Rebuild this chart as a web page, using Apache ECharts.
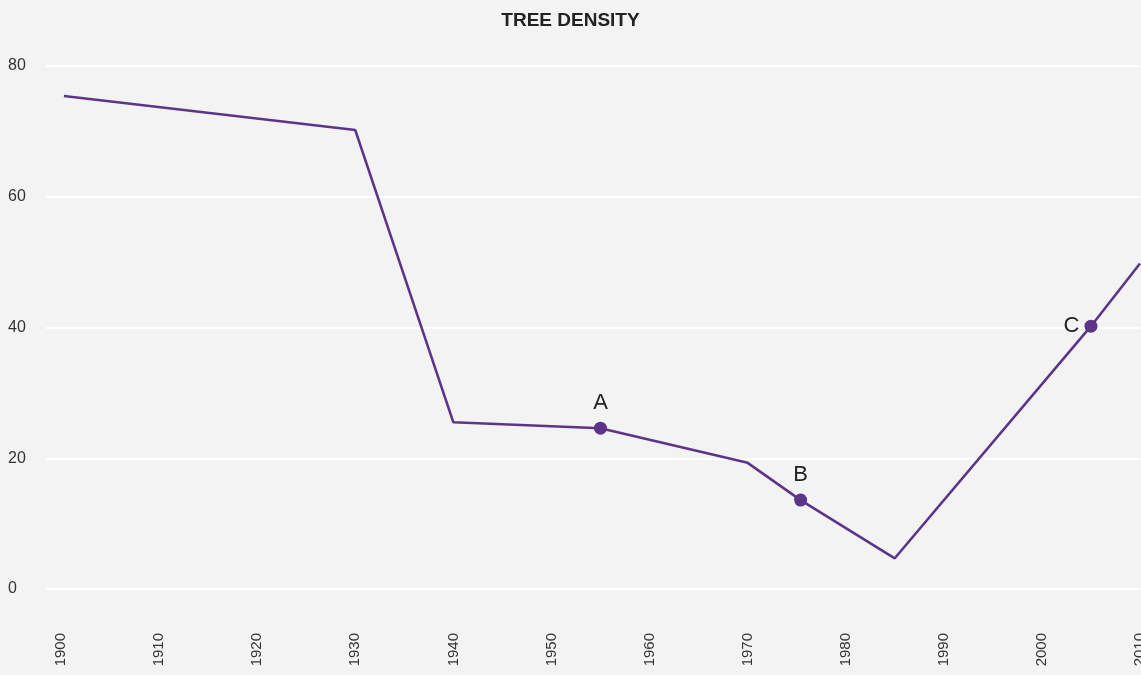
<!DOCTYPE html>
<html>
<head>
<meta charset="utf-8">
<script src="https://cdn.jsdelivr.net/npm/echarts@6/dist/echarts.min.js"></script>
<style>
html,body{margin:0;padding:0;background:#f3f3f3;}
#chart{width:1141px;height:675px;}
</style>
</head>
<body>
<div id="chart"></div>
<script>
const years = [1900.3, 1930, 1940, 1955, 1970, 1975.4, 1985, 2005, 2010];
const density = [75.4, 70.2, 25.5, 24.6, 19.3, 13.6, 4.7, 40.2, 49.8];
const markerYears = [1955, 1975.4, 2005];
const markerValues = [24.6, 13.6, 40.2];
const markerLabels = ['A', 'B', 'C'];
const xTicks = [1900, 1910, 1920, 1930, 1940, 1950, 1960, 1970, 1980, 1990, 2000, 2010];
const yTicks = [0, 20, 40, 60, 80];

const purple = '#5c3589';
const font = 'Liberation Sans, Arial, sans-serif';
const chart = echarts.init(document.getElementById('chart'));
chart.setOption({
  backgroundColor: '#f3f3f3',
  animation: false,
  title: {
    text: 'TREE DENSITY',
    left: 'center',
    top: 6,
    textStyle: {fontFamily: font, fontSize: 19, fontWeight: 'bold', color: '#222'}
  },
  grid: {left: 46, right: 1, top: 66, bottom: 86, outerBoundsMode: 'none', containLabel: false},
  xAxis: {
    type: 'value',
    min: 1898.47,
    max: 2010,
    splitLine: {show: false},
    axisLine: {show: false},
    axisTick: {show: false},
    axisLabel: {
      customValues: xTicks,
      formatter: v => String(v),
      rotate: 90,
      margin: 44,
      fontSize: 15,
      color: '#333',
      fontFamily: font
    }
  },
  yAxis: {
    type: 'value',
    min: 0,
    max: 80,
    interval: 20,
    axisLine: {show: false},
    axisTick: {show: false},
    splitLine: {lineStyle: {color: '#ffffff', width: 2}},
    axisLabel: {
      customValues: yTicks,
      formatter: v => String(v),
      align: 'left',
      margin: 38,
      fontSize: 16,
      color: '#333',
      verticalAlign: 'middle',
      padding: [0, 0, 6, 0],
      fontFamily: font
    }
  },
  series: [
    {
      type: 'line',
      data: years.map((y, i) => [y, density[i]]),
      showSymbol: false,
      lineStyle: {color: purple, width: 2.6},
      z: 2
    },
    {
      type: 'scatter',
      data: markerYears.map((y, i) => ({
        value: [y, markerValues[i]],
        name: markerLabels[i],
        label: markerLabels[i] === 'C' ? {position: 'left', distance: 5} : {position: 'top', distance: 8}
      })),
      symbolSize: 13,
      itemStyle: {color: purple, opacity: 1},
      label: {
        show: true,
        formatter: p => p.name,
        fontSize: 22,
        color: '#222',
        fontFamily: font
      },
      z: 3
    }
  ]
});
</script>
</body>
</html>
